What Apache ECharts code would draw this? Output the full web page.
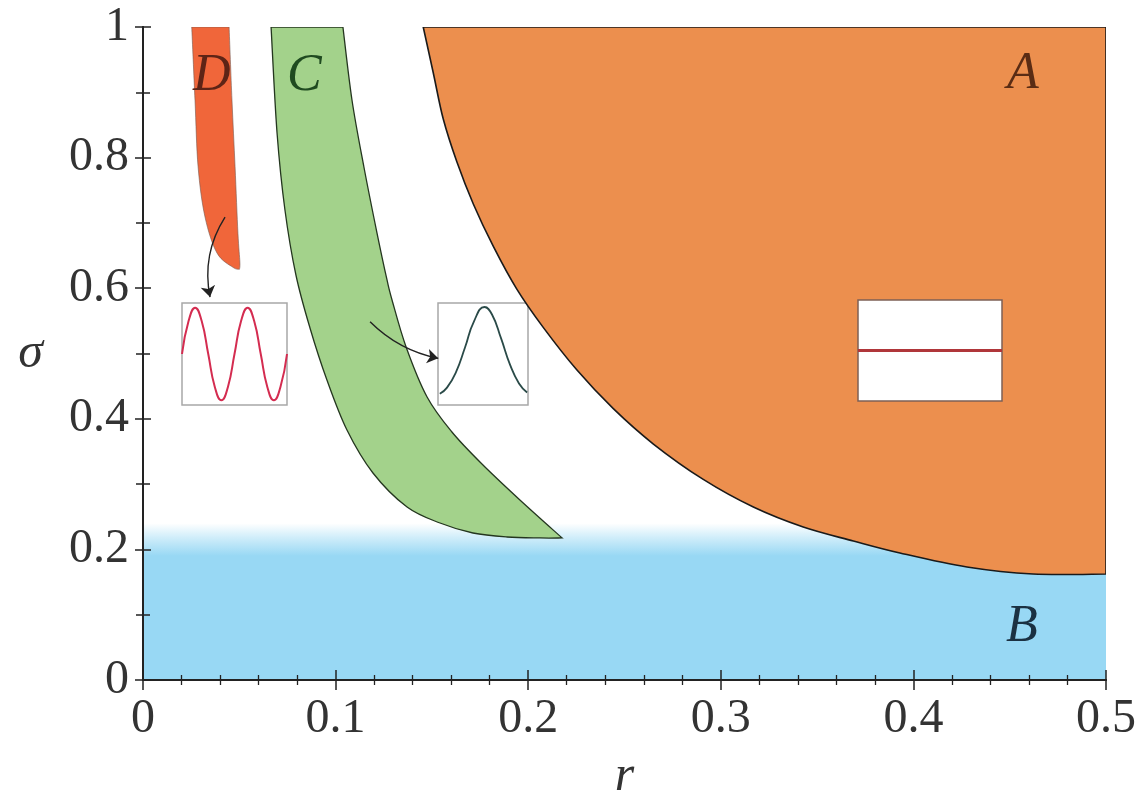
<!DOCTYPE html>
<html>
<head>
<meta charset="utf-8">
<script src="https://cdn.jsdelivr.net/npm/echarts@6/dist/echarts.min.js"></script>
<style>html,body{margin:0;padding:0;background:#fff}#c{width:1143px;height:803px}</style>
</head>
<body>
<div id="c"></div>
<script>
// ---- data (r, sigma) ----
const xRange = [0, 0.5];
const yRange = [0, 1];
// boundary of region A (top -> bottom right)
const boundaryA = [[0.1455,1.0],[0.1507,0.930],[0.1559,0.859],[0.1629,0.794],[0.1715,0.729],[0.1819,0.664],[0.1940,0.599],[0.2078,0.540],[0.2252,0.475],[0.2442,0.4155],[0.2650,0.3614],[0.2909,0.3072],[0.3169,0.2649],[0.3428,0.2343],[0.3688,0.2129],[0.3930,0.1945],[0.4278,0.1730],[0.4621,0.1623],[0.5,0.1623]];
// region C edges (top -> tip)
const regionCLeft = [[0.0665,1.0],[0.0696,0.8377],[0.0737,0.7198],[0.0794,0.6202],[0.0867,0.5391],[0.0955,0.4594],[0.1059,0.3828],[0.1194,0.3170],[0.1371,0.2649],[0.1542,0.2404],[0.1713,0.2251],[0.1890,0.2190],[0.2061,0.2175],[0.2176,0.2175]];
const regionCRight = [[0.1038,1.0],[0.1085,0.8882],[0.1147,0.7856],[0.1215,0.6845],[0.1267,0.6126],[0.1293,0.5820],[0.1366,0.5100],[0.1475,0.4334],[0.1604,0.3798],[0.1760,0.3308],[0.1957,0.2757],[0.2176,0.2175]];
// region D edges (top -> tip)
const regionDLeft = [[0.0253,1.0],[0.027,0.888],[0.0286,0.786],[0.0322,0.709],[0.0384,0.654],[0.0467,0.632],[0.0501,0.629]];
const regionDRight = [[0.0447,1.0],[0.0462,0.888],[0.0478,0.786],[0.0493,0.684],[0.0503,0.640],[0.0501,0.629]];
// region B band: solid up to sigma 0.19, fading out by 0.24
const bandB = [0, 0.19, 0.24];
// arrows
const arrowD = [[0.0426,0.709],[0.0348,0.5865]];
const arrowC = [[0.1179,0.5487],[0.1533,0.4926]];
// inset curves (x in box fraction)
const insetSine = [[0,0],[0.0625,0.71],[0.125,1],[0.1875,0.71],[0.25,0],[0.3125,-0.71],[0.375,-1],[0.4375,-0.71],[0.5,0],[0.5625,0.71],[0.625,1],[0.6875,0.71],[0.75,0],[0.8125,-0.71],[0.875,-1],[0.9375,-0.71],[1,0]];
const insetPulse = [[0.02,0.046],[0.1,0.114],[0.2,0.285],[0.3,0.555],[0.4,0.843],[0.517,1],[0.6,0.918],[0.7,0.658],[0.8,0.367],[0.9,0.160],[0.99,0.061]];
const insetFlat = [[0,0],[1,0]];
const regionLabels = ['A','B','C','D'];

function spline(pts, move) {
  const n = pts.length;
  let d = (move ? 'M' : 'L') + pts[0][0] + ',' + pts[0][1];
  for (let i = 0; i < n - 1; i++) {
    const p0 = pts[Math.max(i - 1, 0)], p1 = pts[i], p2 = pts[i + 1], p3 = pts[Math.min(i + 2, n - 1)];
    const c1 = [p1[0] + (p2[0] - p0[0]) / 6, p1[1] + (p2[1] - p0[1]) / 6];
    const c2 = [p2[0] - (p3[0] - p1[0]) / 6, p2[1] - (p3[1] - p1[1]) / 6];
    d += ' C' + c1[0] + ',' + c1[1] + ' ' + c2[0] + ',' + c2[1] + ' ' + p2[0] + ',' + p2[1];
  }
  return d;
}

function regionSeries(z, build, style) {
  return {
    type: 'custom', coordinateSystem: 'cartesian2d', xAxisIndex: 0, yAxisIndex: 0,
    clip: true, silent: true, z: z, data: [[0.25, 0.5]],
    renderItem: function (params, api) {
      return { type: 'path', shape: { pathData: build(api) }, style: style };
    }
  };
}

const serif = 'Liberation Serif';
const chart = echarts.init(document.getElementById('c'), null, { renderer: 'canvas' });

const mainAxisCommon = {
  axisLine: { lineStyle: { color: '#222', width: 2 } },
  splitLine: { show: false },
  z: 10
};

function labelText(i, x, y, color) {
  return { type: 'text', left: x, top: y, z: 20,
    style: { text: regionLabels[i], fontFamily: serif, fontStyle: 'italic', fontSize: 52, fill: color } };
}

const option = {
  backgroundColor: '#fff',
  animation: false,
  grid: [
    { left: 143, right: 37, top: 27, bottom: 123, outerBoundsMode: 'none', containLabel: false },
    { left: 182, top: 303, width: 105, height: 102, outerBoundsMode: 'none', show: true, borderColor: '#a8a8a8', borderWidth: 1.5, backgroundColor: 'rgba(255,255,255,0)' },
    { left: 438, top: 303, width: 90, height: 102, outerBoundsMode: 'none', show: true, borderColor: '#a8a8a8', borderWidth: 1.5, backgroundColor: 'rgba(255,255,255,0)' },
    { left: 858, top: 300, width: 144, height: 101, outerBoundsMode: 'none', show: true, borderColor: '#7d6055', borderWidth: 1.5, backgroundColor: '#ffffff', z: 5 }
  ],
  xAxis: [
    Object.assign({ type: 'value', gridIndex: 0, position: 'bottom', min: xRange[0], max: xRange[1], interval: 0.1,
      name: 'r', nameLocation: 'middle', nameGap: 72,
      nameTextStyle: { fontFamily: serif, fontStyle: 'italic', fontSize: 50, color: '#333' },
      axisTick: { show: true, inside: true, length: 10, lineStyle: { color: '#222', width: 1.5 } },
      minorTick: { show: true, splitNumber: 5, length: 5, lineStyle: { color: '#222', width: 1.3 } },
      axisLabel: { fontFamily: serif, fontSize: 48, color: '#333', margin: 15,
        formatter: function (v) { return v === 0 ? '0' : String(Math.round(v * 10) / 10); } }
    }, mainAxisCommon),
    Object.assign({ type: 'value', gridIndex: 0, position: 'top', min: xRange[0], max: xRange[1], interval: 0.1,
      axisTick: { show: true, inside: true, length: 10, lineStyle: { color: '#222', width: 1.5 } },
      minorTick: { show: true, splitNumber: 5, length: 5, lineStyle: { color: '#222', width: 1.3 } },
      axisLabel: { show: false }
    }, mainAxisCommon),
    { type: 'value', gridIndex: 1, min: 0, max: 1, show: false },
    { type: 'value', gridIndex: 2, min: 0, max: 1, show: false },
    { type: 'value', gridIndex: 3, min: 0, max: 1, show: false }
  ],
  yAxis: [
    Object.assign({ type: 'value', gridIndex: 0, position: 'left', min: yRange[0], max: yRange[1], interval: 0.2,
      name: 'σ', nameLocation: 'middle', nameGap: 100, nameRotate: 0,
      nameTextStyle: { fontFamily: serif, fontStyle: 'italic', fontSize: 50, color: '#333' },
      axisTick: { show: true, inside: true, length: 8, lineStyle: { color: '#222', width: 1.5 } },
      minorTick: { show: true, splitNumber: 2, length: 7, lineStyle: { color: '#222', width: 1.5 } },
      axisLabel: { fontFamily: serif, fontSize: 48, color: '#333', margin: 14,
        formatter: function (v) { return v === 0 ? '0' : (v === 1 ? '1' : String(Math.round(v * 10) / 10)); } }
    }, mainAxisCommon),
    Object.assign({ type: 'value', gridIndex: 0, position: 'right', min: yRange[0], max: yRange[1], interval: 0.2,
      axisTick: { show: true, inside: true, length: 8, lineStyle: { color: '#222', width: 1.5 } },
      minorTick: { show: true, splitNumber: 2, length: 7, lineStyle: { color: '#222', width: 1.5 } },
      axisLabel: { show: false }
    }, mainAxisCommon),
    { type: 'value', gridIndex: 1, min: -1.1, max: 1.1, show: false },
    { type: 'value', gridIndex: 2, min: -0.077, max: 1.044, show: false },
    { type: 'value', gridIndex: 3, min: -1, max: 1, show: false }
  ],
  series: [
    // region B (blue band)
    regionSeries(1, function (api) {
      const p0 = api.coord([xRange[0], bandB[0]]), p1 = api.coord([xRange[1], bandB[2]]);
      return 'M' + p0[0] + ',' + p0[1] + ' L' + p1[0] + ',' + p0[1] + ' L' + p1[0] + ',' + p1[1] + ' L' + p0[0] + ',' + p1[1] + ' Z';
    }, {
      fill: { type: 'linear', x: 0, y: 0, x2: 0, y2: 1, colorStops: [
        { offset: 0, color: 'rgba(152,216,244,0)' },
        { offset: 0.09, color: 'rgba(152,216,244,0.45)' },
        { offset: (bandB[2] - bandB[1]) / bandB[2], color: 'rgba(152,216,244,1)' },
        { offset: 1, color: 'rgba(152,216,244,1)' }] },
      stroke: null
    }),
    // region A
    regionSeries(2, function (api) {
      const pts = boundaryA.map(function (p) { return api.coord(p); });
      const c = api.coord([xRange[1], yRange[1]]);
      return spline(pts, true) + ' L' + c[0] + ',' + c[1] + ' Z';
    }, { fill: '#EC8F4E', stroke: '#1a1a1a', lineWidth: 1.6 }),
    // region C
    regionSeries(3, function (api) {
      const l = regionCLeft.map(function (p) { return api.coord(p); });
      const r = regionCRight.map(function (p) { return api.coord(p); }).reverse();
      return spline(l, true) + ' ' + spline(r, false) + ' Z';
    }, { fill: '#A3D28B', stroke: '#24361f', lineWidth: 1.3 }),
    // region D
    regionSeries(3, function (api) {
      const l = regionDLeft.map(function (p) { return api.coord(p); });
      const r = regionDRight.map(function (p) { return api.coord(p); }).reverse();
      return spline(l, true) + ' ' + spline(r, false) + ' Z';
    }, { fill: '#F0663A', stroke: 'rgba(120,90,80,0.6)', lineWidth: 1 }),
    // arrows
    {
      type: 'lines', coordinateSystem: 'cartesian2d', xAxisIndex: 0, yAxisIndex: 0, z: 6, silent: true,
      symbol: ['none', 'arrow'], symbolSize: [0, 11],
      lineStyle: { color: '#222', width: 1.4, curveness: -0.2, opacity: 1 },
      data: [{ coords: arrowD }]
    },
    {
      type: 'lines', coordinateSystem: 'cartesian2d', xAxisIndex: 0, yAxisIndex: 0, z: 6, silent: true,
      symbol: ['none', 'arrow'], symbolSize: [0, 11],
      lineStyle: { color: '#222', width: 1.4, curveness: -0.15, opacity: 1 },
      data: [{ coords: arrowC }]
    },
    // insets
    { type: 'line', xAxisIndex: 2, yAxisIndex: 2, data: insetSine, smooth: 0.5, showSymbol: false, z: 6,
      lineStyle: { color: '#D42C50', width: 2 } },
    { type: 'line', xAxisIndex: 3, yAxisIndex: 3, data: insetPulse, smooth: 0.5, showSymbol: false, z: 6,
      lineStyle: { color: '#2a4a48', width: 1.8 } },
    { type: 'line', xAxisIndex: 4, yAxisIndex: 4, data: insetFlat, showSymbol: false, z: 6,
      lineStyle: { color: '#B0363A', width: 3 } }
  ],
  graphic: [
    labelText(0, 1007, 48, '#5a2c14'),
    labelText(1, 1006, 601, '#1b3142'),
    labelText(2, 287, 50, '#1f4a20'),
    labelText(3, 193, 50, '#5e2416')
  ]
};
chart.setOption(option);
</script>
</body>
</html>
